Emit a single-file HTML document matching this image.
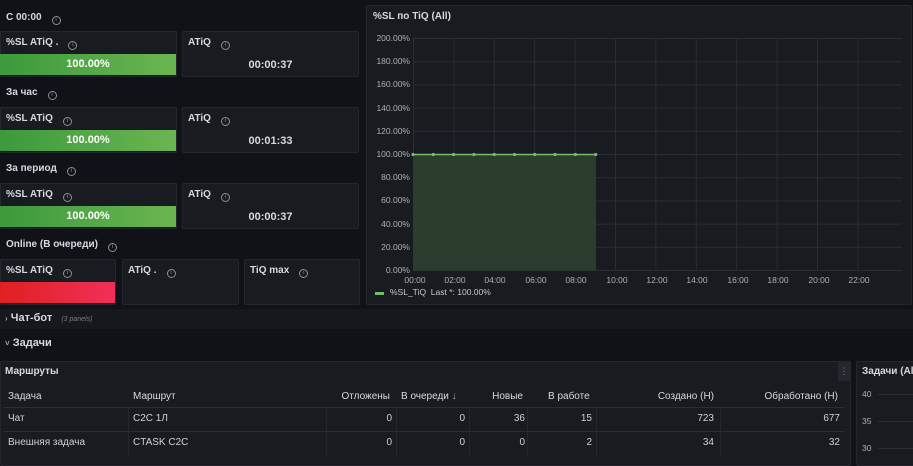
<!DOCTYPE html>
<html><head><meta charset="utf-8"><style>
*{margin:0;padding:0;box-sizing:border-box}
body{width:913px;height:462px;background:#111217;font-family:"Liberation Sans","Noto Sans CJK SC",sans-serif;color:#ccccdc;position:relative;overflow:hidden;font-size:12px}
.a{position:absolute;white-space:nowrap}
.p{position:absolute;background:#181b1f;border:1px solid #24272d;border-radius:2px}
.t{position:absolute;font-size:10px;font-weight:bold;color:#d8d9e0;white-space:nowrap;line-height:12px}
.i{display:inline-block;width:9px;height:9px;border:1px solid #8e8e98;border-radius:50%;margin-left:10px;vertical-align:-1px;font-size:6px;line-height:7px;text-align:center;color:#8e8e98;font-weight:normal}
.g{position:absolute;background:linear-gradient(90deg,#3c9a3c,#6bb551);color:#fff;font-weight:bold;font-size:11px;text-align:center;line-height:21px}
.v{position:absolute;font-size:11px;font-weight:bold;color:#d8d9e0;text-align:center}
.h{font-size:10px;font-weight:bold;color:#d8d9e0;line-height:12px}
.yl{position:absolute;font-size:8.5px;color:#b0b0b8;text-align:right;width:45px}
.xl{position:absolute;font-size:8.5px;color:#b0b0b8;width:40px;text-align:center}
.th{position:absolute;font-size:10px;color:#d8d9e0}
.td{position:absolute;font-size:10px;color:#cfd0d6}
.r{text-align:right}
</style></head><body>
<div class="a h" style="left:6px;top:12px">С 00:00<span class="i">i</span></div>
<div class="p" style="left:0;top:31px;width:177px;height:46px"></div>
<div class="t" style="left:6px;top:37px">%SL ATiQ .<span class="i">i</span></div>
<div class="g" style="left:0;top:54px;width:176px;height:21px">100.00%</div>
<div class="p" style="left:182px;top:31px;width:177px;height:46px"></div>
<div class="t" style="left:188px;top:37px">ATiQ<span class="i">i</span></div>
<div class="v" style="left:182px;top:59px;width:177px">00:00:37</div>

<div class="a h" style="left:6px;top:87px">За час<span class="i">i</span></div>
<div class="p" style="left:0;top:107px;width:177px;height:46px"></div>
<div class="t" style="left:6px;top:113px">%SL ATiQ<span class="i">i</span></div>
<div class="g" style="left:0;top:130px;width:176px;height:21px">100.00%</div>
<div class="p" style="left:182px;top:107px;width:177px;height:46px"></div>
<div class="t" style="left:188px;top:113px">ATiQ<span class="i">i</span></div>
<div class="v" style="left:182px;top:135px;width:177px">00:01:33</div>

<div class="a h" style="left:6px;top:163px">За период<span class="i">i</span></div>
<div class="p" style="left:0;top:183px;width:177px;height:46px"></div>
<div class="t" style="left:6px;top:189px">%SL ATiQ<span class="i">i</span></div>
<div class="g" style="left:0;top:206px;width:176px;height:21px">100.00%</div>
<div class="p" style="left:182px;top:183px;width:177px;height:46px"></div>
<div class="t" style="left:188px;top:189px">ATiQ<span class="i">i</span></div>
<div class="v" style="left:182px;top:211px;width:177px">00:00:37</div>

<div class="a h" style="left:6px;top:239px">Online (В очереди)<span class="i">i</span></div>
<div class="p" style="left:0;top:259px;width:116px;height:46px"></div>
<div class="t" style="left:6px;top:265px">%SL ATiQ<span class="i">i</span></div>
<div class="a" style="left:0;top:282px;width:115px;height:21px;background:linear-gradient(90deg,#e02020,#f0305a)"></div>
<div class="p" style="left:122px;top:259px;width:117px;height:46px"></div>
<div class="t" style="left:128px;top:265px">ATiQ .<span class="i">i</span></div>
<div class="p" style="left:244px;top:259px;width:116px;height:46px"></div>
<div class="t" style="left:250px;top:265px">TiQ max<span class="i">i</span></div>

<div class="p" style="left:366px;top:5px;width:546px;height:300px"></div>
<div class="t" style="left:373px;top:11px">%SL по TiQ (All)</div>
<svg class="a" style="left:0;top:0" width="913" height="310">
<g stroke="#2a2d33" stroke-width="1">
<line x1="413" y1="38.5" x2="902" y2="38.5"/><line x1="413" y1="61.7" x2="902" y2="61.7"/><line x1="413" y1="84.9" x2="902" y2="84.9"/><line x1="413" y1="108.1" x2="902" y2="108.1"/><line x1="413" y1="131.3" x2="902" y2="131.3"/><line x1="413" y1="154.5" x2="902" y2="154.5"/><line x1="413" y1="177.7" x2="902" y2="177.7"/><line x1="413" y1="200.9" x2="902" y2="200.9"/><line x1="413" y1="224.1" x2="902" y2="224.1"/><line x1="413" y1="247.3" x2="902" y2="247.3"/><line x1="413" y1="270.5" x2="902" y2="270.5"/>
<line x1="413.5" y1="38" x2="413.5" y2="271"/><line x1="453.9" y1="38" x2="453.9" y2="271"/><line x1="494.3" y1="38" x2="494.3" y2="271"/><line x1="534.7" y1="38" x2="534.7" y2="271"/><line x1="575.1" y1="38" x2="575.1" y2="271"/><line x1="615.5" y1="38" x2="615.5" y2="271"/><line x1="655.9" y1="38" x2="655.9" y2="271"/><line x1="696.3" y1="38" x2="696.3" y2="271"/><line x1="736.7" y1="38" x2="736.7" y2="271"/><line x1="777.1" y1="38" x2="777.1" y2="271"/><line x1="817.5" y1="38" x2="817.5" y2="271"/><line x1="857.9" y1="38" x2="857.9" y2="271"/>
</g>
<rect x="413" y="154.5" width="183" height="116" fill="#2c3d2e"/>
<line x1="413" y1="154.5" x2="596" y2="154.5" stroke="#73bf69" stroke-width="1.5"/>
<g fill="#73bf69"><circle cx="413" cy="154.5" r="1.6"/><circle cx="433.3" cy="154.5" r="1.6"/><circle cx="453.6" cy="154.5" r="1.6"/><circle cx="473.9" cy="154.5" r="1.6"/><circle cx="494.2" cy="154.5" r="1.6"/><circle cx="514.5" cy="154.5" r="1.6"/><circle cx="534.8" cy="154.5" r="1.6"/><circle cx="555.1" cy="154.5" r="1.6"/><circle cx="575.4" cy="154.5" r="1.6"/><circle cx="595.7" cy="154.5" r="1.6"/></g>
<rect x="375" y="292" width="9" height="3" fill="#73bf69"/>
</svg>
<div class="yl" style="left:365px;top:33px">200.00%</div><div class="yl" style="left:365px;top:56px">180.00%</div><div class="yl" style="left:365px;top:79px">160.00%</div><div class="yl" style="left:365px;top:103px">140.00%</div><div class="yl" style="left:365px;top:126px">120.00%</div><div class="yl" style="left:365px;top:149px">100.00%</div><div class="yl" style="left:365px;top:172px">80.00%</div><div class="yl" style="left:365px;top:195px">60.00%</div><div class="yl" style="left:365px;top:219px">40.00%</div><div class="yl" style="left:365px;top:242px">20.00%</div><div class="yl" style="left:365px;top:265px">0.00%</div>
<div class="xl" style="left:395px;top:275px">00:00</div><div class="xl" style="left:435px;top:275px">02:00</div><div class="xl" style="left:475px;top:275px">04:00</div><div class="xl" style="left:516px;top:275px">06:00</div><div class="xl" style="left:556px;top:275px">08:00</div><div class="xl" style="left:597px;top:275px">10:00</div><div class="xl" style="left:637px;top:275px">12:00</div><div class="xl" style="left:677px;top:275px">14:00</div><div class="xl" style="left:718px;top:275px">16:00</div><div class="xl" style="left:758px;top:275px">18:00</div><div class="xl" style="left:799px;top:275px">20:00</div><div class="xl" style="left:839px;top:275px">22:00</div>
<div class="a" style="left:390px;top:287px;font-size:8.5px;color:#c8c9d0">%SL_TiQ&nbsp; Last *: 100.00%</div>

<div class="a" style="left:0;top:309px;width:913px;height:20px;background:#16181d"></div>
<div class="a" style="left:5px;top:312px;font-size:11px;font-weight:bold;color:#d8d9e0"><span style="font-size:8px;color:#aaa">›</span> Чат-бот <span style="font-size:7px;font-style:italic;color:#7b7e88;font-weight:normal;margin-left:6px">(3 panels)</span></div>
<div class="a" style="left:5px;top:337px;font-size:11px;font-weight:bold;color:#d8d9e0"><span style="font-size:8px;color:#aaa">˅</span> Задачи</div>

<div class="p" style="left:0;top:361px;width:851px;height:105px"></div>
<div class="a" style="left:838px;top:362px;width:12px;height:19px;background:#24272d;color:#888;font-size:9px;text-align:center;line-height:19px">⋮</div>
<div class="t" style="left:5px;top:366px">Маршруты</div>
<svg class="a" style="left:0;top:0" width="913" height="462">
<g stroke="#2a2d33"><line x1="3" y1="407.5" x2="845" y2="407.5"/><line x1="3" y1="431.5" x2="845" y2="431.5"/></g>
<g stroke="#24272c"><line x1="128.5" y1="408" x2="128.5" y2="457"/><line x1="326.5" y1="408" x2="326.5" y2="457"/><line x1="396.5" y1="408" x2="396.5" y2="457"/><line x1="469.5" y1="408" x2="469.5" y2="457"/><line x1="527.5" y1="408" x2="527.5" y2="457"/><line x1="596.5" y1="408" x2="596.5" y2="457"/><line x1="720.5" y1="408" x2="720.5" y2="457"/></g>
</svg>
<div class="th" style="left:8px;top:391px">Задача</div>
<div class="th" style="left:133px;top:391px">Маршрут</div>
<div class="th r" style="left:300px;width:90px;top:391px">Отложены</div>
<div class="th" style="left:401px;top:391px">В очереди <span style="color:#aaa">↓</span></div>
<div class="th r" style="left:470px;width:53px;top:391px">Новые</div>
<div class="th" style="left:548px;top:391px">В работе</div>
<div class="th r" style="left:600px;width:114px;top:391px">Создано (Н)</div>
<div class="th r" style="left:720px;width:118px;top:391px">Обработано (Н)</div>

<div class="td" style="left:8px;top:413px">Чат</div>
<div class="td" style="left:133px;top:413px">C2C 1Л</div>
<div class="td r" style="left:330px;width:62px;top:413px">0</div>
<div class="td r" style="left:400px;width:65px;top:413px">0</div>
<div class="td r" style="left:470px;width:55px;top:413px">36</div>
<div class="td r" style="left:530px;width:62px;top:413px">15</div>
<div class="td r" style="left:600px;width:114px;top:413px">723</div>
<div class="td r" style="left:720px;width:120px;top:413px">677</div>

<div class="td" style="left:8px;top:437px">Внешняя задача</div>
<div class="td" style="left:133px;top:437px">CTASK C2C</div>
<div class="td r" style="left:330px;width:62px;top:437px">0</div>
<div class="td r" style="left:400px;width:65px;top:437px">0</div>
<div class="td r" style="left:470px;width:55px;top:437px">0</div>
<div class="td r" style="left:530px;width:62px;top:437px">2</div>
<div class="td r" style="left:600px;width:114px;top:437px">34</div>
<div class="td r" style="left:720px;width:120px;top:437px">32</div>

<div class="p" style="left:856px;top:361px;width:60px;height:105px"></div>
<div class="t" style="left:862px;top:366px">Задачи (All</div>
<div class="a" style="left:862px;top:389px;font-size:8.5px;color:#b0b0b8">40</div>
<div class="a" style="left:862px;top:416px;font-size:8.5px;color:#b0b0b8">35</div>
<div class="a" style="left:862px;top:443px;font-size:8.5px;color:#b0b0b8">30</div>
<div class="a" style="left:878px;top:394px;width:35px;height:1px;background:#2a2d33"></div>
<div class="a" style="left:878px;top:421px;width:35px;height:1px;background:#2a2d33"></div>
<div class="a" style="left:878px;top:448px;width:35px;height:1px;background:#2a2d33"></div>
</body></html>
